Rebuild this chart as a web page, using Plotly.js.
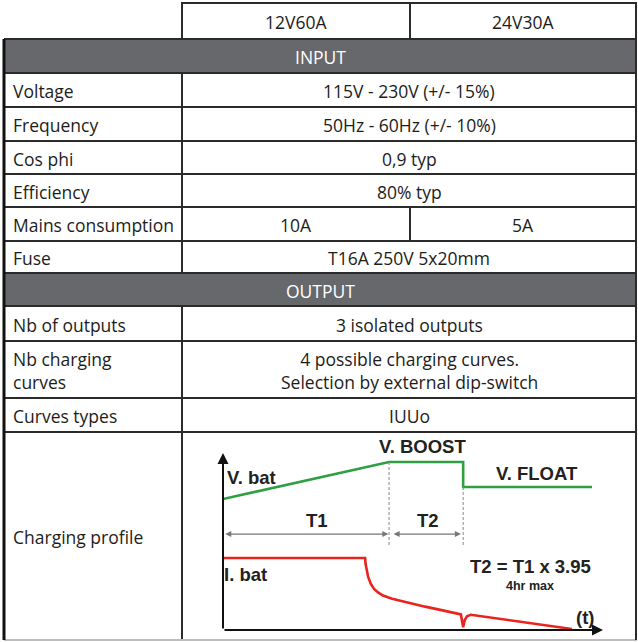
<!DOCTYPE html>
<html>
<head>
<meta charset="utf-8">
<script src="https://cdn.plot.ly/plotly-3.0.1.min.js"></script>
<style>html,body{margin:0;padding:0;background:#fff;}#chart{width:638px;height:642px;}</style>
</head>
<body>
<div id="chart"></div>
<script>
// ---------- DATA ----------
const columns = ["12V60A", "24V30A"];
const sections = ["INPUT", "OUTPUT"];
const inputLabels = ["Voltage", "Frequency", "Cos phi", "Efficiency", "Mains consumption", "Fuse"];
const input12 = ["115V - 230V (+/- 15%)", "50Hz - 60Hz (+/- 10%)", "0,9 typ", "80% typ", "10A", "T16A 250V 5x20mm"];
const input24 = ["115V - 230V (+/- 15%)", "50Hz - 60Hz (+/- 10%)", "0,9 typ", "80% typ", "5A", "T16A 250V 5x20mm"];
const outputLabels = ["Nb of outputs", "Nb charging<br>curves", "Curves types", "Charging profile"];
const output12 = ["3 isolated outputs", "4 possible charging curves.<br>Selection by external dip-switch", "IUUo", null];
const output24 = ["3 isolated outputs", "4 possible charging curves.<br>Selection by external dip-switch", "IUUo", null];

// charging profile diagram (time units, level units)
const tVolt = [0, 4.37, 6.32, 6.32, 9.71];
const vBat  = [7.40, 9.49, 9.49, 8.08, 8.08];
const tCurr = [0, 3.74, 3.75, 3.78, 3.82, 3.89, 3.97, 4.08, 4.21, 4.45, 4.84, 5.32, 5.84, 6.26, 6.32, 6.36, 6.42, 6.52, 9.18];
const iBat  = [4.07, 4.07, 3.75, 3.35, 3.00, 2.60, 2.33, 2.12, 1.95, 1.77, 1.55, 1.32, 1.08, 0.88, 0.15, 0.55, 0.78, 0.86, 0.06];
const phaseEnds = [4.37, 6.32];           // end of T1, end of T2
const phaseLabels = ["T1", "T2"];
const diagramLabels = ["V. bat", "V. BOOST", "V. FLOAT", "I. bat", "T2 = T1 x 3.95", "4hr max", "(t)"];

// ---------- LAYOUT CONSTANTS ----------
const W = 638, H = 642;
const xL = 4, xC = 182, xM = 410, xR = 636;
const edges = [3, 39, 73, 107, 141, 174, 207, 241, 273, 306, 341, 398, 432, 640];
const GRAY = "#67686c", LINE = "#2b2b2b", TXT = "#1d1d1b";
const FONT = "Open Sans, sans-serif";
const FS = 17.5;

const shapes = [];
const ann = [];
function hline(y, x0, x1, color, w) {
  shapes.push({type: "line", xref: "x", yref: "y", x0: x0, x1: x1, y0: y, y1: y, line: {color: color || LINE, width: w || 2}});
}
function vline(x, y0, y1, color, w) {
  shapes.push({type: "line", xref: "x", yref: "y", x0: x, x1: x, y0: y0, y1: y1, line: {color: color || LINE, width: w || 2}});
}
function text(t, x, y, opts) {
  ann.push(Object.assign({text: t, x: x, y: y, xref: "x", yref: "y", showarrow: false,
    xanchor: "center", yanchor: "middle", font: {family: FONT, size: FS, color: TXT}}, opts || {}));
}

// build rows
const rows = [];
rows.push({kind: "header"});
rows.push({kind: "section", text: sections[0]});
inputLabels.forEach((l, i) => rows.push({kind: "row", label: l, a: input12[i], b: input24[i]}));
rows.push({kind: "section", text: sections[1]});
outputLabels.forEach((l, i) => rows.push({kind: "row", label: l, a: output12[i], b: output24[i]}));

rows.forEach((r, i) => {
  const y0 = edges[i], y1 = edges[i + 1], yc = (y0 + y1) / 2 + 1;
  if (r.kind === "header") {
    text(columns[0], (xC + xM) / 2, yc);
    text(columns[1], (xM + xR) / 2, yc);
    vline(xM, y0, y1);
    vline(xC, y0, y1);
  } else if (r.kind === "section") {
    shapes.push({type: "rect", xref: "x", yref: "y", x0: xL, x1: xR, y0: y0, y1: y1, fillcolor: GRAY, line: {width: 0}, layer: "below"});
    text(r.text, (xL + xR) / 2, yc, {font: {family: FONT, size: FS, color: "#ffffff"}});
  } else {
    text(r.label, 11, yc, {xanchor: "left", align: "left"});
    vline(xC, y0, y1);
    if (r.a !== null) {
      if (r.a === r.b) {
        text(r.a, (xC + xR) / 2, yc);
      } else {
        text(r.a, (xC + xM) / 2, yc);
        text(r.b, (xM + xR) / 2, yc);
        vline(xM, y0, y1);
      }
    }
  }
});
// horizontal rules
hline(edges[0], xC - 1, xR + 1);
for (let i = 1; i < edges.length - 1; i++) hline(edges[i], xL, xR + 1);
hline(edges[edges.length - 1], xL, xR + 1, "#bdbdbd", 2);
// outer verticals
vline(xL, edges[1], edges[edges.length - 1], "#111", 3);
vline(xR, edges[0], edges[edges.length - 1]);

// ---------- DIAGRAM ----------
const PXU_X = 38, PXU_Y = 17.7;           // pixels per diagram unit
const ox = 223, oy = 630;                 // diagram origin in page pixels
const yTop = 11;
const dx0 = ox / W, dx1 = (ox + 10 * PXU_X) / W;
const dy0 = (H - oy) / H, dy1 = (H - (oy - yTop * PXU_Y)) / H;
const DF = "Liberation Sans, Arial, sans-serif";
const dfont = (s) => ({family: DF, size: s, color: "#222"});

// axes arrows
ann.push({xref: "x2", yref: "y2", axref: "x2", ayref: "y2", x: 10, y: 0, ax: 0, ay: 0, text: "", showarrow: true,
  arrowhead: 2, arrowsize: 1.1, arrowwidth: 2, arrowcolor: "#111"});
ann.push({xref: "x2", yref: "y2", axref: "x2", ayref: "y2", x: 0, y: 10, ax: 0, ay: 0, text: "", showarrow: true,
  arrowhead: 2, arrowsize: 1.1, arrowwidth: 2, arrowcolor: "#111"});
// phase dimension arrows
const arrowY = 5.42;
ann.push({xref: "x2", yref: "y2", axref: "x2", ayref: "y2", x: phaseEnds[0] - 0.02, y: arrowY, ax: 0.02, ay: arrowY, text: "",
  showarrow: true, arrowhead: 2, startarrowhead: 2, arrowside: "end+start", arrowsize: 1, arrowwidth: 1.2, arrowcolor: "#777"});
ann.push({xref: "x2", yref: "y2", axref: "x2", ayref: "y2", x: phaseEnds[1] - 0.06, y: arrowY, ax: phaseEnds[0] + 0.08, ay: arrowY, text: "",
  showarrow: true, arrowhead: 2, startarrowhead: 2, arrowside: "end+start", arrowsize: 1, arrowwidth: 1.2, arrowcolor: "#777"});
// dashed phase boundaries
shapes.push({type: "line", xref: "x2", yref: "y2", x0: phaseEnds[0], x1: phaseEnds[0], y0: vBat[1], y1: 4.8, line: {color: "#888", width: 1, dash: "3px,2px"}});
shapes.push({type: "line", xref: "x2", yref: "y2", x0: phaseEnds[1], x1: phaseEnds[1], y0: vBat[3], y1: 4.8, line: {color: "#888", width: 1, dash: "3px,2px"}});

function dtext(t, x, y, size, opts) {
  ann.push(Object.assign({text: "<b>" + t + "</b>", x: x, y: y, xref: "x2", yref: "y2", showarrow: false,
    xanchor: "center", yanchor: "middle", font: dfont(size)}, opts || {}));
}
dtext(phaseLabels[0], 2.47, 6.21, 18.5);
dtext(phaseLabels[1], 5.39, 6.21, 18.5);
dtext(diagramLabels[0], 0.05, 8.64, 18.5, {xanchor: "left"});
dtext(diagramLabels[1], 5.26, 10.36, 18.5);
dtext(diagramLabels[2], 8.26, 8.87, 18.5);
dtext(diagramLabels[3], 0.02, 3.11, 18.5, {xanchor: "left", xshift: -2});
dtext(diagramLabels[4], 8.08, 3.56, 18.5);
dtext(diagramLabels[5], 8.08, 2.50, 12.5);
dtext(diagramLabels[6], 9.53, 0.68, 18.5);

const traces = [
  {x: [0, W], y: [0, H], xaxis: "x", yaxis: "y", mode: "markers", marker: {opacity: 0}, hoverinfo: "skip", showlegend: false},
  {x: tVolt, y: vBat, xaxis: "x2", yaxis: "y2", mode: "lines", line: {color: "#2ea043", width: 2.6}, hoverinfo: "skip", showlegend: false, cliponaxis: false},
  {x: tCurr, y: iBat, xaxis: "x2", yaxis: "y2", mode: "lines", line: {color: "#e8241c", width: 2.6}, hoverinfo: "skip", showlegend: false, cliponaxis: false}
];

const layout = {
  width: W, height: H,
  margin: {l: 0, r: 0, t: 0, b: 0, pad: 0},
  paper_bgcolor: "#ffffff", plot_bgcolor: "rgba(0,0,0,0)",
  showlegend: false,
  xaxis: {range: [0, W], visible: false, fixedrange: true, domain: [0, 1]},
  yaxis: {range: [H, 0], visible: false, fixedrange: true, domain: [0, 1]},
  xaxis2: {range: [0, 10], domain: [dx0, dx1], visible: false, anchor: "y2", fixedrange: true},
  yaxis2: {range: [0, yTop], domain: [dy0, dy1], visible: false, anchor: "x2", fixedrange: true},
  shapes: shapes,
  annotations: ann
};

Plotly.newPlot("chart", traces, layout, {staticPlot: true, displayModeBar: false});
</script>
</body>
</html>
